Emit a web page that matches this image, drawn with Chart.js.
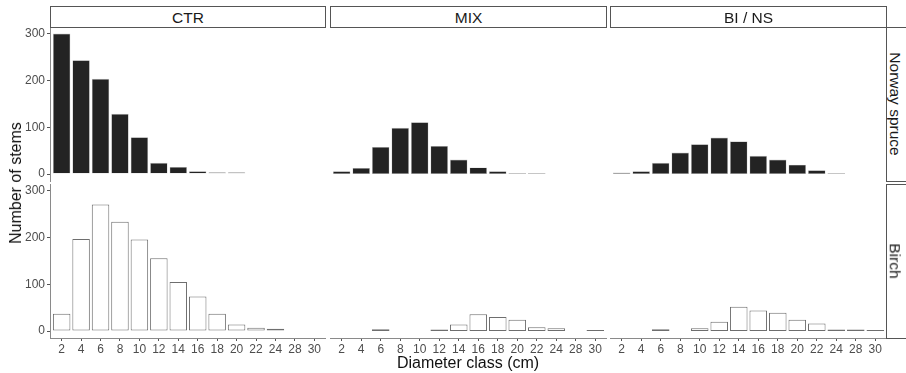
<!DOCTYPE html>
<html>
<head>
<meta charset="utf-8">
<title>Diameter distribution</title>
<script src="https://cdn.jsdelivr.net/npm/chart.js@4.4.1/dist/chart.umd.min.js"></script>
<style>
  html, body { margin: 0; padding: 0; background: #fff; }
  #wrap { position: relative; width: 906px; height: 373px; overflow: hidden;
          font-family: "Liberation Sans", Arial, sans-serif; }
  #wrap canvas { position: absolute; }
  .box { position: absolute; box-sizing: border-box; border: 1px solid #555; background: #fff; }
  .txt { position: absolute; white-space: nowrap; line-height: 1; }
  .strip { font-size: 15.5px; color: #1a1a1a; }
  .axis-title { font-size: 16px; color: #111; }
</style>
</head>
<body>
<div id="wrap"></div>
<script>
// diameter classes on the x axis (no 26 cm class)
const diameterClasses = ['2', '4', '6', '8', '10', '12', '14', '16', '18', '20', '22', '24', '28', '30'];
const treatments = ['CTR', 'MIX', 'BI / NS'];
const yTicks = [0, 100, 200, 300];

// number of stems per class, Norway spruce
const spruceCTR  = [301, 244, 204, 129, 79, 24, 15, 6, 4, 4, null, null, null, null];
const spruceMIX  = [6, 13, 58, 99, 111, 60, 31, 14, 6, 2, 2, null, null, null];
const spruceBINS = [3, 6, 24, 46, 64, 78, 70, 39, 31, 20, 8, 2, null, null];

// number of stems per class, birch
const birchCTR  = [37, 197, 271, 234, 196, 156, 105, 74, 37, 14, 7, 5, null, null];
const birchMIX  = [null, null, 4, null, null, 3, 14, 36, 30, 24, 8, 6, null, 2];
const birchBINS = [null, null, 4, null, 6, 20, 52, 44, 39, 24, 16, 3, 3, 2];

Chart.defaults.font.family = '"Liberation Sans", Arial, sans-serif';

const wrap = document.getElementById('wrap');

const species = {
  spruce: { name: 'Norway spruce', fill: '#232323', edge: '#c6c6c6', edgeWidth: 0.6,
            values: [spruceCTR, spruceMIX, spruceBINS] },
  birch:  { name: 'Birch', fill: '#ffffff', edge: '#6e6e6e', edgeWidth: 1,
            values: [birchCTR, birchMIX, birchBINS] }
};

// facet columns: canvas left / width, only the first one carries the y axis
const cols = [
  { left: 0,   width: 326, yAxis: true },
  { left: 330, width: 277, yAxis: false },
  { left: 610, width: 277, yAxis: false }
];
// facet rows: canvas top / height, only the bottom one carries the x axis
const rows = [
  { key: 'spruce', top: 17,  height: 174, xAxis: false },
  { key: 'birch',  top: 174, height: 194, xAxis: true }
];

const tickFont = { size: 12 };
const tickColor = '#4d4d4d';
const lineColor = '#8a8a8a';

function panel(col, row, colIdx) {
  const sp = species[row.key];
  const values = sp.values[colIdx];
  const canvas = document.createElement('canvas');
  canvas.width = col.width;
  canvas.height = row.height;
  canvas.style.left = col.left + 'px';
  canvas.style.top = row.top + 'px';
  wrap.appendChild(canvas);

  return new Chart(canvas, {
    type: 'bar',
    data: {
      datasets: [{
        label: sp.name,
        data: values.map((v, i) => ({ x: i, y: v })),
        backgroundColor: sp.fill,
        borderColor: sp.edge,
        borderWidth: sp.edgeWidth,
        borderSkipped: false,
        barPercentage: 0.9,
        categoryPercentage: 1
      }]
    },
    options: {
      responsive: false,
      animation: false,
      layout: { padding: { top: 10, bottom: row.xAxis ? 0 : 10, left: 0, right: 0 } },
      plugins: { legend: { display: false }, tooltip: { enabled: false } },
      scales: {
        x: {
          type: 'linear',
          min: -0.6,
          max: diameterClasses.length - 0.4,
          offset: false,
          display: row.xAxis,
          grid: { display: true, drawOnChartArea: false, offset: false,
                  tickLength: 3, color: '#555' },
          border: { display: true, color: lineColor },
          ticks: { font: tickFont, color: tickColor, padding: 1,
                   maxRotation: 0, autoSkip: false,
                   callback: v => diameterClasses[v] },
          afterBuildTicks: s => { s.ticks = diameterClasses.map((_, i) => ({ value: i })); },
          afterFit: s => { s.height = row.xAxis ? 30 : 0; }
        },
        y: {
          type: 'linear',
          min: -15,
          max: 315,
          display: col.yAxis,
          grid: { display: true, drawOnChartArea: false, tickLength: 3, color: '#555' },
          border: { display: true, color: lineColor },
          ticks: { font: tickFont, color: tickColor, padding: 2 },
          afterBuildTicks: s => { s.ticks = yTicks.map(v => ({ value: v })); },
          afterFit: s => { s.width = col.yAxis ? 50 : 0; }
        }
      }
    }
  });
}

rows.forEach(row => cols.forEach((col, i) => panel(col, row, i)));

function box(left, top, width, height) {
  const d = document.createElement('div');
  d.className = 'box';
  Object.assign(d.style, { left: left + 'px', top: top + 'px',
                           width: width + 'px', height: height + 'px' });
  wrap.appendChild(d);
}

function text(str, cx, cy, rot, cls) {
  const d = document.createElement('div');
  d.className = 'txt ' + cls;
  d.textContent = str;
  d.style.left = cx + 'px';
  d.style.top = cy + 'px';
  d.style.transform = 'translate(-50%, -50%) rotate(' + rot + 'deg)';
  wrap.appendChild(d);
}

// facet strips across the top
const stripCols = [[50, 276], [330, 277], [610, 277]];
stripCols.forEach(([l, w], i) => {
  box(l, 6, w, 22);
  text(treatments[i], l + w / 2, 17.5, 0, 'strip');
});

// facet strips down the right side
box(886, 27, 24, 155);
text(species.spruce.name, 895, 104, 90, 'strip');
box(886, 184, 24, 155);
text(species.birch.name, 895, 261, 90, 'strip');

// axis titles
text('Number of stems', 16, 183, -90, 'axis-title');
text('Diameter class (cm)', 468, 363, 0, 'axis-title');
</script>
</body>
</html>
